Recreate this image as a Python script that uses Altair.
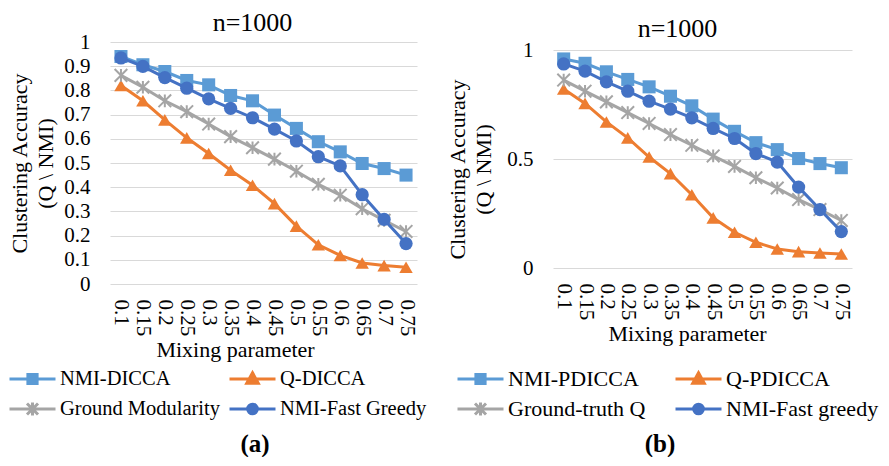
import altair as alt
import pandas as pd

FONT = "Liberation Serif"

x_labels = ["0.1", "0.15", "0.2", "0.25", "0.3", "0.35", "0.4",
            "0.45", "0.5", "0.55", "0.6", "0.65", "0.7", "0.75"]

# Panel (a)
names_a = ["NMI-DICCA", "Q-DICCA", "Ground Modularity", "NMI-Fast Greedy"]
nmi_dicca = [0.940, 0.906, 0.878, 0.841, 0.823, 0.779, 0.757, 0.698, 0.643, 0.588, 0.546, 0.498, 0.477, 0.450]
q_dicca = [0.820, 0.757, 0.678, 0.604, 0.539, 0.470, 0.408, 0.332, 0.239, 0.162, 0.118, 0.087, 0.076, 0.069]
ground_mod = [0.862, 0.813, 0.757, 0.712, 0.661, 0.609, 0.563, 0.516, 0.466, 0.412, 0.367, 0.311, 0.263, 0.217]
fast_greedy_a = [0.934, 0.899, 0.853, 0.809, 0.765, 0.726, 0.687, 0.640, 0.591, 0.526, 0.488, 0.369, 0.267, 0.167]

# Panel (b)
names_b = ["NMI-PDICCA", "Q-PDICCA", "Ground-truth Q", "NMI-Fast greedy"]
nmi_pdicca = [0.959, 0.939, 0.900, 0.865, 0.831, 0.788, 0.744, 0.683, 0.627, 0.575, 0.543, 0.502, 0.479, 0.460]
q_pdicca = [0.821, 0.755, 0.670, 0.597, 0.509, 0.433, 0.336, 0.230, 0.164, 0.118, 0.087, 0.075, 0.069, 0.064]
ground_truth_q = [0.862, 0.811, 0.762, 0.713, 0.663, 0.612, 0.563, 0.514, 0.466, 0.414, 0.367, 0.314, 0.268, 0.218]
fast_greedy_b = [0.936, 0.903, 0.854, 0.811, 0.765, 0.729, 0.689, 0.640, 0.594, 0.525, 0.486, 0.371, 0.268, 0.167]

colors = ["#5B9BD5", "#ED7D31", "#A5A5A5", "#4472C4"]
marker_shapes = ["square", "triangle-up", "M-1,-1L1,1M-1,1L1,-1M0,-1L0,1", "circle"]
marker_sizes = [170, 180, 160, 175]
legend_paths = [
    "M-1,0H1M-0.2,-0.2H0.2V0.2H-0.2Z",
    "M-1,0H1M0,-0.27L0.25,0.18H-0.25Z",
    "M-1,0H1M-0.24,-0.24L0.24,0.24M-0.24,0.24L0.24,-0.24M0,-0.28V0.28",
    "M-1,0H1M0.21,0A0.21,0.21 0 1,1 -0.21,0A0.21,0.21 0 1,1 0.21,0Z",
]


def make_panel(names, series, field, yvals, width, height, yrange, title, leg,
               x_title_x, y_title_pad, y_title_y):
    rows = []
    for name, vals in zip(names, series):
        for xl, v in zip(x_labels, vals):
            rows.append({"x": xl, "y": v, field: name})
    df = pd.DataFrame(rows)

    xenc = alt.X(
        "x:O", sort=x_labels, scale=alt.Scale(padding=0.5),
        axis=alt.Axis(title="Mixing parameter", labelAngle=90, labelPadding=15,
                      titlePadding=4, titleX=x_title_x, grid=False, domain=False,
                      ticks=False),
    )
    yenc = alt.Y(
        "y:Q", scale=alt.Scale(domain=[0, 1], nice=False, range=yrange),
        axis=alt.Axis(title=["Clustering Accuracy", "(Q \\ NMI)"], values=yvals,
                      format="~g", labelPadding=20, titlePadding=y_title_pad,
                      titleLineHeight=26, titleY=y_title_y, domain=False, ticks=False,
                      grid=True, gridColor="#D9D9D9", gridWidth=1),
    )

    layers = []
    for name, color, shape, size in zip(names, colors, marker_shapes, marker_sizes):
        base = alt.Chart(df).transform_filter(alt.datum[field] == name)
        layers.append(base.mark_line(color=color, strokeWidth=3).encode(x=xenc, y=yenc))
        if shape.startswith("M"):
            pt = base.mark_point(shape=shape, filled=False, color=color, strokeWidth=2,
                                 size=size, opacity=1)
        else:
            pt = base.mark_point(shape=shape, filled=True, color=color, size=size, opacity=1)
        layers.append(pt.encode(x=xenc, y=yenc))

    legend_layer = (
        alt.Chart(df)
        .transform_filter("false")
        .mark_point(filled=True, opacity=1)
        .encode(
            color=alt.Color(f"{field}:N", scale=alt.Scale(domain=names, range=colors), legend=leg),
            stroke=alt.Stroke(f"{field}:N", scale=alt.Scale(domain=names, range=colors), legend=leg),
            shape=alt.Shape(f"{field}:N", scale=alt.Scale(domain=names, range=legend_paths), legend=leg),
        )
    )
    layers.append(legend_layer)
    return alt.layer(*layers).properties(width=width, height=height, title=title)


def make_legend(x, y, col_pad, font_size):
    return alt.Legend(
        title=None, orient="none", legendX=x, legendY=y, columns=2, direction="horizontal",
        columnPadding=col_pad, rowPadding=8, clipHeight=22, symbolSize=2116,
        symbolStrokeWidth=3, labelFont=FONT, labelFontSize=font_size,
        labelColor="black", labelOffset=3, labelLimit=400,
    )


panel_a = make_panel(
    names_a, [nmi_dicca, q_dicca, ground_mod, fast_greedy_a], "series_a",
    [i / 10 for i in range(11)], 307, 242, [242, 0],
    alt.TitleParams("n=1000", frame="group", dx=-11, offset=-5),
    make_legend(-102, 326, 8, 20.5),
    x_title_x=125, y_title_pad=6, y_title_y=121,
)
panel_b = make_panel(
    names_b, [nmi_pdicca, q_pdicca, ground_truth_q, fast_greedy_b], "series_b",
    [0, 0.5, 1], 299, 226, [226, 8],
    alt.TitleParams("n=1000", frame="group", dx=-25, offset=-3),
    make_legend(-97, 326, 28, 22),
    x_title_x=134, y_title_pad=11, y_title_y=127,
)

cap_a = alt.Chart(pd.DataFrame({"t": ["(a)"]})).mark_text(
    font=FONT, fontSize=25, fontWeight="bold", color="black"
).encode(text="t:N", x=alt.value(145), y=alt.value(24)).properties(width=300, height=36)
cap_b = alt.Chart(pd.DataFrame({"t": ["(b)"]})).mark_text(
    font=FONT, fontSize=25, fontWeight="bold", color="black"
).encode(text="t:N", x=alt.value(107), y=alt.value(24)).properties(width=200, height=36)

chart = (
    alt.concat(panel_a, panel_b, cap_a, cap_b, columns=2,
               spacing={"row": 0, "column": 19})
    .resolve_scale(color="independent", stroke="independent", shape="independent")
    .configure(font=FONT, padding={"top": 2, "left": 0, "right": 0, "bottom": 0})
    .configure_view(stroke=None)
    .configure_axis(labelFont=FONT, labelFontSize=21, labelColor="black",
                    titleFont=FONT, titleFontSize=22, titleColor="black",
                    titleFontWeight="normal")
    .configure_title(font=FONT, fontSize=26, fontWeight="normal", color="black")
)

chart.save("out.html", embed_options={"renderer": "svg", "actions": False})
